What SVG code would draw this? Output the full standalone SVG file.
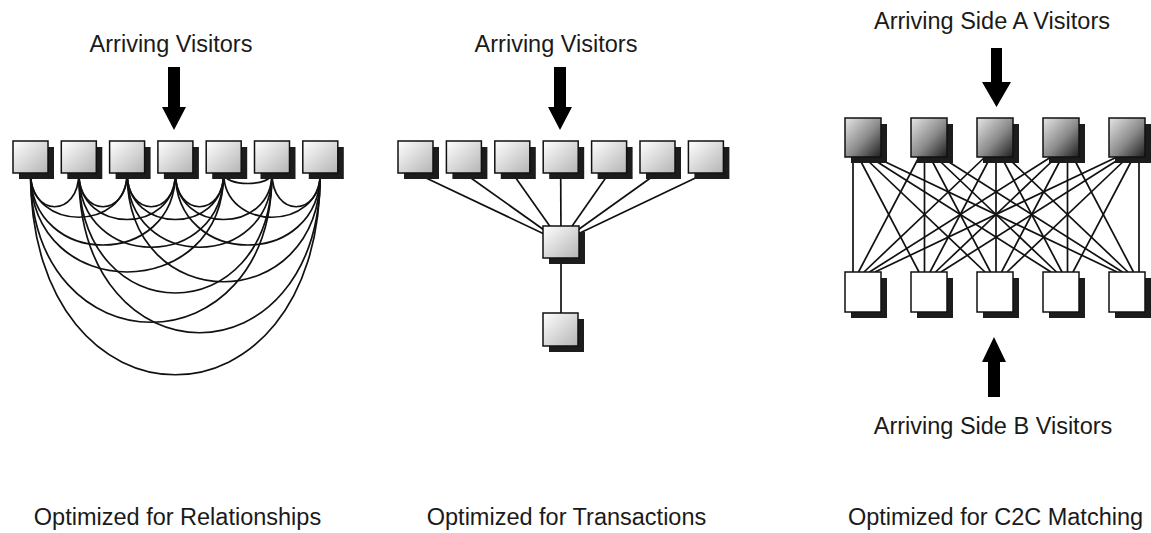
<svg xmlns="http://www.w3.org/2000/svg" width="1151" height="533" viewBox="0 0 1151 533">
<defs>
<linearGradient id="gLight" x1="0" y1="0" x2="1" y2="1">
<stop offset="0" stop-color="#ffffff"/><stop offset="1" stop-color="#b4b4b4"/>
</linearGradient>
<linearGradient id="gDark" x1="0" y1="0" x2="1" y2="1">
<stop offset="0" stop-color="#e6e6e6"/><stop offset="0.55" stop-color="#8a8a8a"/><stop offset="1" stop-color="#1e1e1e"/>
</linearGradient>
<style>
.t{font-family:"Liberation Sans",Arial,sans-serif;font-size:23.5px;fill:#1a1a1a;text-anchor:middle}
.sh{fill:#1c1c1c}
.bl{fill:url(#gLight);stroke:#111;stroke-width:1.5}
.bd{fill:url(#gDark);stroke:#111;stroke-width:1.5}
.bw{fill:#fff;stroke:#111;stroke-width:1.5}
.c{fill:none;stroke:#111;stroke-width:1.7}
.ar{fill:#000}
</style>
</defs>
<rect width="1151" height="533" fill="#fff"/>

<!-- connectors -->
<g id="connectors">
<g id="arcs-relationships">
<path class="c" d="M30.5 173 C30.5 218,78.8 218,78.8 173"/>
<path class="c" d="M78.8 173 C78.8 218,127.1 218,127.1 173"/>
<path class="c" d="M127.1 173 C127.1 218,175.4 218,175.4 173"/>
<path class="c" d="M175.4 173 C175.4 218,223.7 218,223.7 173"/>
<path class="c" d="M223.7 173 C223.7 187,272 187,272 173"/>
<path class="c" d="M272 173 C272 218,320.3 218,320.3 173"/>
<path class="c" d="M30.5 173 C30.5 232,127.1 232,127.1 173"/>
<path class="c" d="M78.8 173 C78.8 235,175.4 235,175.4 173"/>
<path class="c" d="M127.1 173 C127.1 235,223.7 235,223.7 173"/>
<path class="c" d="M175.4 173 C175.4 235,272 235,272 173"/>
<path class="c" d="M223.7 173 C223.7 232,320.3 232,320.3 173"/>
<path class="c" d="M30.5 173 C30.5 269,175.4 269,175.4 173"/>
<path class="c" d="M78.8 173 C78.8 272,223.7 272,223.7 173"/>
<path class="c" d="M127.1 173 C127.1 272,272 272,272 173"/>
<path class="c" d="M175.4 173 C175.4 269,320.3 269,320.3 173"/>
<path class="c" d="M30.5 173 C30.5 305,223.7 305,223.7 173"/>
<path class="c" d="M78.8 173 C78.8 333,272 333,272 173"/>
<path class="c" d="M127.1 173 C127.1 318,320.3 318,320.3 173"/>
<path class="c" d="M30.5 173 C30.5 372,272 372,272 173"/>
<path class="c" d="M78.8 173 C78.8 386,320.3 386,320.3 173"/>
<path class="c" d="M30.5 173 C30.5 442,320.3 442,320.3 173"/>
</g>
<g id="lines-transactions">
<line class="c" x1="415.5" y1="173" x2="561" y2="242"/>
<line class="c" x1="463.9" y1="173" x2="561" y2="242"/>
<line class="c" x1="512.3" y1="173" x2="561" y2="242"/>
<line class="c" x1="560.7" y1="173" x2="561" y2="242"/>
<line class="c" x1="609.1" y1="173" x2="561" y2="242"/>
<line class="c" x1="657.5" y1="173" x2="561" y2="242"/>
<line class="c" x1="705.9" y1="173" x2="561" y2="242"/>
<line class="c" x1="561" y1="258" x2="561" y2="313"/>
</g>
<g id="lines-c2c">
<line class="c" x1="853" y1="157" x2="853" y2="272"/>
<line class="c" x1="858.5" y1="157" x2="919" y2="272"/>
<line class="c" x1="864" y1="157" x2="985" y2="272"/>
<line class="c" x1="869.5" y1="157" x2="1051" y2="272"/>
<line class="c" x1="875" y1="157" x2="1117" y2="272"/>
<line class="c" x1="919" y1="157" x2="858.5" y2="272"/>
<line class="c" x1="924.5" y1="157" x2="924.5" y2="272"/>
<line class="c" x1="930" y1="157" x2="990.5" y2="272"/>
<line class="c" x1="935.5" y1="157" x2="1056.5" y2="272"/>
<line class="c" x1="941" y1="157" x2="1122.5" y2="272"/>
<line class="c" x1="985" y1="157" x2="864" y2="272"/>
<line class="c" x1="990.5" y1="157" x2="930" y2="272"/>
<line class="c" x1="996" y1="157" x2="996" y2="272"/>
<line class="c" x1="1001.5" y1="157" x2="1062" y2="272"/>
<line class="c" x1="1007" y1="157" x2="1128" y2="272"/>
<line class="c" x1="1051" y1="157" x2="869.5" y2="272"/>
<line class="c" x1="1056.5" y1="157" x2="935.5" y2="272"/>
<line class="c" x1="1062" y1="157" x2="1001.5" y2="272"/>
<line class="c" x1="1067.5" y1="157" x2="1067.5" y2="272"/>
<line class="c" x1="1073" y1="157" x2="1133.5" y2="272"/>
<line class="c" x1="1117" y1="157" x2="875" y2="272"/>
<line class="c" x1="1122.5" y1="157" x2="941" y2="272"/>
<line class="c" x1="1128" y1="157" x2="1007" y2="272"/>
<line class="c" x1="1133.5" y1="157" x2="1073" y2="272"/>
<line class="c" x1="1139" y1="157" x2="1139" y2="272"/>
</g>
<g id="arrows">
<polygon class="ar" points="168,67 180,67 180,107 186,107 174,130 162,107 168,107"/>
<polygon class="ar" points="554,67 566,67 566,107 572,107 560,130 548,107 554,107"/>
<polygon class="ar" points="991,48 1002,48 1002,82 1011,82 996.5,107 982,82 991,82"/>
<polygon class="ar" points="988,397 1000,397 1000,362 1006,362 994,337 982,362 988,362"/>
</g>
</g>

<!-- left panel nodes -->
<g id="rel-1"><rect class="sh" x="19" y="147" width="35" height="32"/><rect class="bl" x="13" y="141" width="35" height="32"/></g>
<g id="rel-2"><rect class="sh" x="67.3" y="147" width="35" height="32"/><rect class="bl" x="61.3" y="141" width="35" height="32"/></g>
<g id="rel-3"><rect class="sh" x="115.6" y="147" width="35" height="32"/><rect class="bl" x="109.6" y="141" width="35" height="32"/></g>
<g id="rel-4"><rect class="sh" x="163.9" y="147" width="35" height="32"/><rect class="bl" x="157.9" y="141" width="35" height="32"/></g>
<g id="rel-5"><rect class="sh" x="212.2" y="147" width="35" height="32"/><rect class="bl" x="206.2" y="141" width="35" height="32"/></g>
<g id="rel-6"><rect class="sh" x="260.5" y="147" width="35" height="32"/><rect class="bl" x="254.5" y="141" width="35" height="32"/></g>
<g id="rel-7"><rect class="sh" x="308.8" y="147" width="35" height="32"/><rect class="bl" x="302.8" y="141" width="35" height="32"/></g>

<!-- middle panel nodes -->
<g id="tx-1"><rect class="sh" x="404" y="147" width="35" height="32"/><rect class="bl" x="398" y="141" width="35" height="32"/></g>
<g id="tx-2"><rect class="sh" x="452.4" y="147" width="35" height="32"/><rect class="bl" x="446.4" y="141" width="35" height="32"/></g>
<g id="tx-3"><rect class="sh" x="500.8" y="147" width="35" height="32"/><rect class="bl" x="494.8" y="141" width="35" height="32"/></g>
<g id="tx-4"><rect class="sh" x="549.2" y="147" width="35" height="32"/><rect class="bl" x="543.2" y="141" width="35" height="32"/></g>
<g id="tx-5"><rect class="sh" x="597.6" y="147" width="35" height="32"/><rect class="bl" x="591.6" y="141" width="35" height="32"/></g>
<g id="tx-6"><rect class="sh" x="646" y="147" width="35" height="32"/><rect class="bl" x="640" y="141" width="35" height="32"/></g>
<g id="tx-7"><rect class="sh" x="694.4" y="147" width="35" height="32"/><rect class="bl" x="688.4" y="141" width="35" height="32"/></g>
<g id="tx-hub"><rect class="sh" x="549" y="232" width="36" height="32"/><rect class="bl" x="543" y="226" width="36" height="32"/></g>
<g id="tx-bottom"><rect class="sh" x="549" y="319" width="35" height="33"/><rect class="bl" x="543" y="313" width="35" height="33"/></g>

<!-- right panel nodes -->
<g id="a-1"><rect class="sh" x="851" y="124" width="36" height="39"/><rect class="bd" x="845" y="118" width="36" height="39"/></g>
<g id="a-2"><rect class="sh" x="917" y="124" width="36" height="39"/><rect class="bd" x="911" y="118" width="36" height="39"/></g>
<g id="a-3"><rect class="sh" x="983" y="124" width="36" height="39"/><rect class="bd" x="977" y="118" width="36" height="39"/></g>
<g id="a-4"><rect class="sh" x="1049" y="124" width="36" height="39"/><rect class="bd" x="1043" y="118" width="36" height="39"/></g>
<g id="a-5"><rect class="sh" x="1115" y="124" width="36" height="39"/><rect class="bd" x="1109" y="118" width="36" height="39"/></g>
<g id="b-1"><rect class="sh" x="851" y="278" width="36" height="40"/><rect class="bw" x="845" y="272" width="36" height="40"/></g>
<g id="b-2"><rect class="sh" x="917" y="278" width="36" height="40"/><rect class="bw" x="911" y="272" width="36" height="40"/></g>
<g id="b-3"><rect class="sh" x="983" y="278" width="36" height="40"/><rect class="bw" x="977" y="272" width="36" height="40"/></g>
<g id="b-4"><rect class="sh" x="1049" y="278" width="36" height="40"/><rect class="bw" x="1043" y="272" width="36" height="40"/></g>
<g id="b-5"><rect class="sh" x="1115" y="278" width="36" height="40"/><rect class="bw" x="1109" y="272" width="36" height="40"/></g>

<!-- labels -->
<g id="labels">
<text class="t" x="171" y="52">Arriving Visitors</text>
<text class="t" x="556" y="52">Arriving Visitors</text>
<text class="t" x="992" y="29">Arriving Side A Visitors</text>
<text class="t" x="993" y="434">Arriving Side B Visitors</text>
<text class="t" x="177.5" y="525">Optimized for Relationships</text>
<text class="t" x="566.5" y="525">Optimized for Transactions</text>
<text class="t" x="995.5" y="525">Optimized for C2C Matching</text>
</g>
</svg>
